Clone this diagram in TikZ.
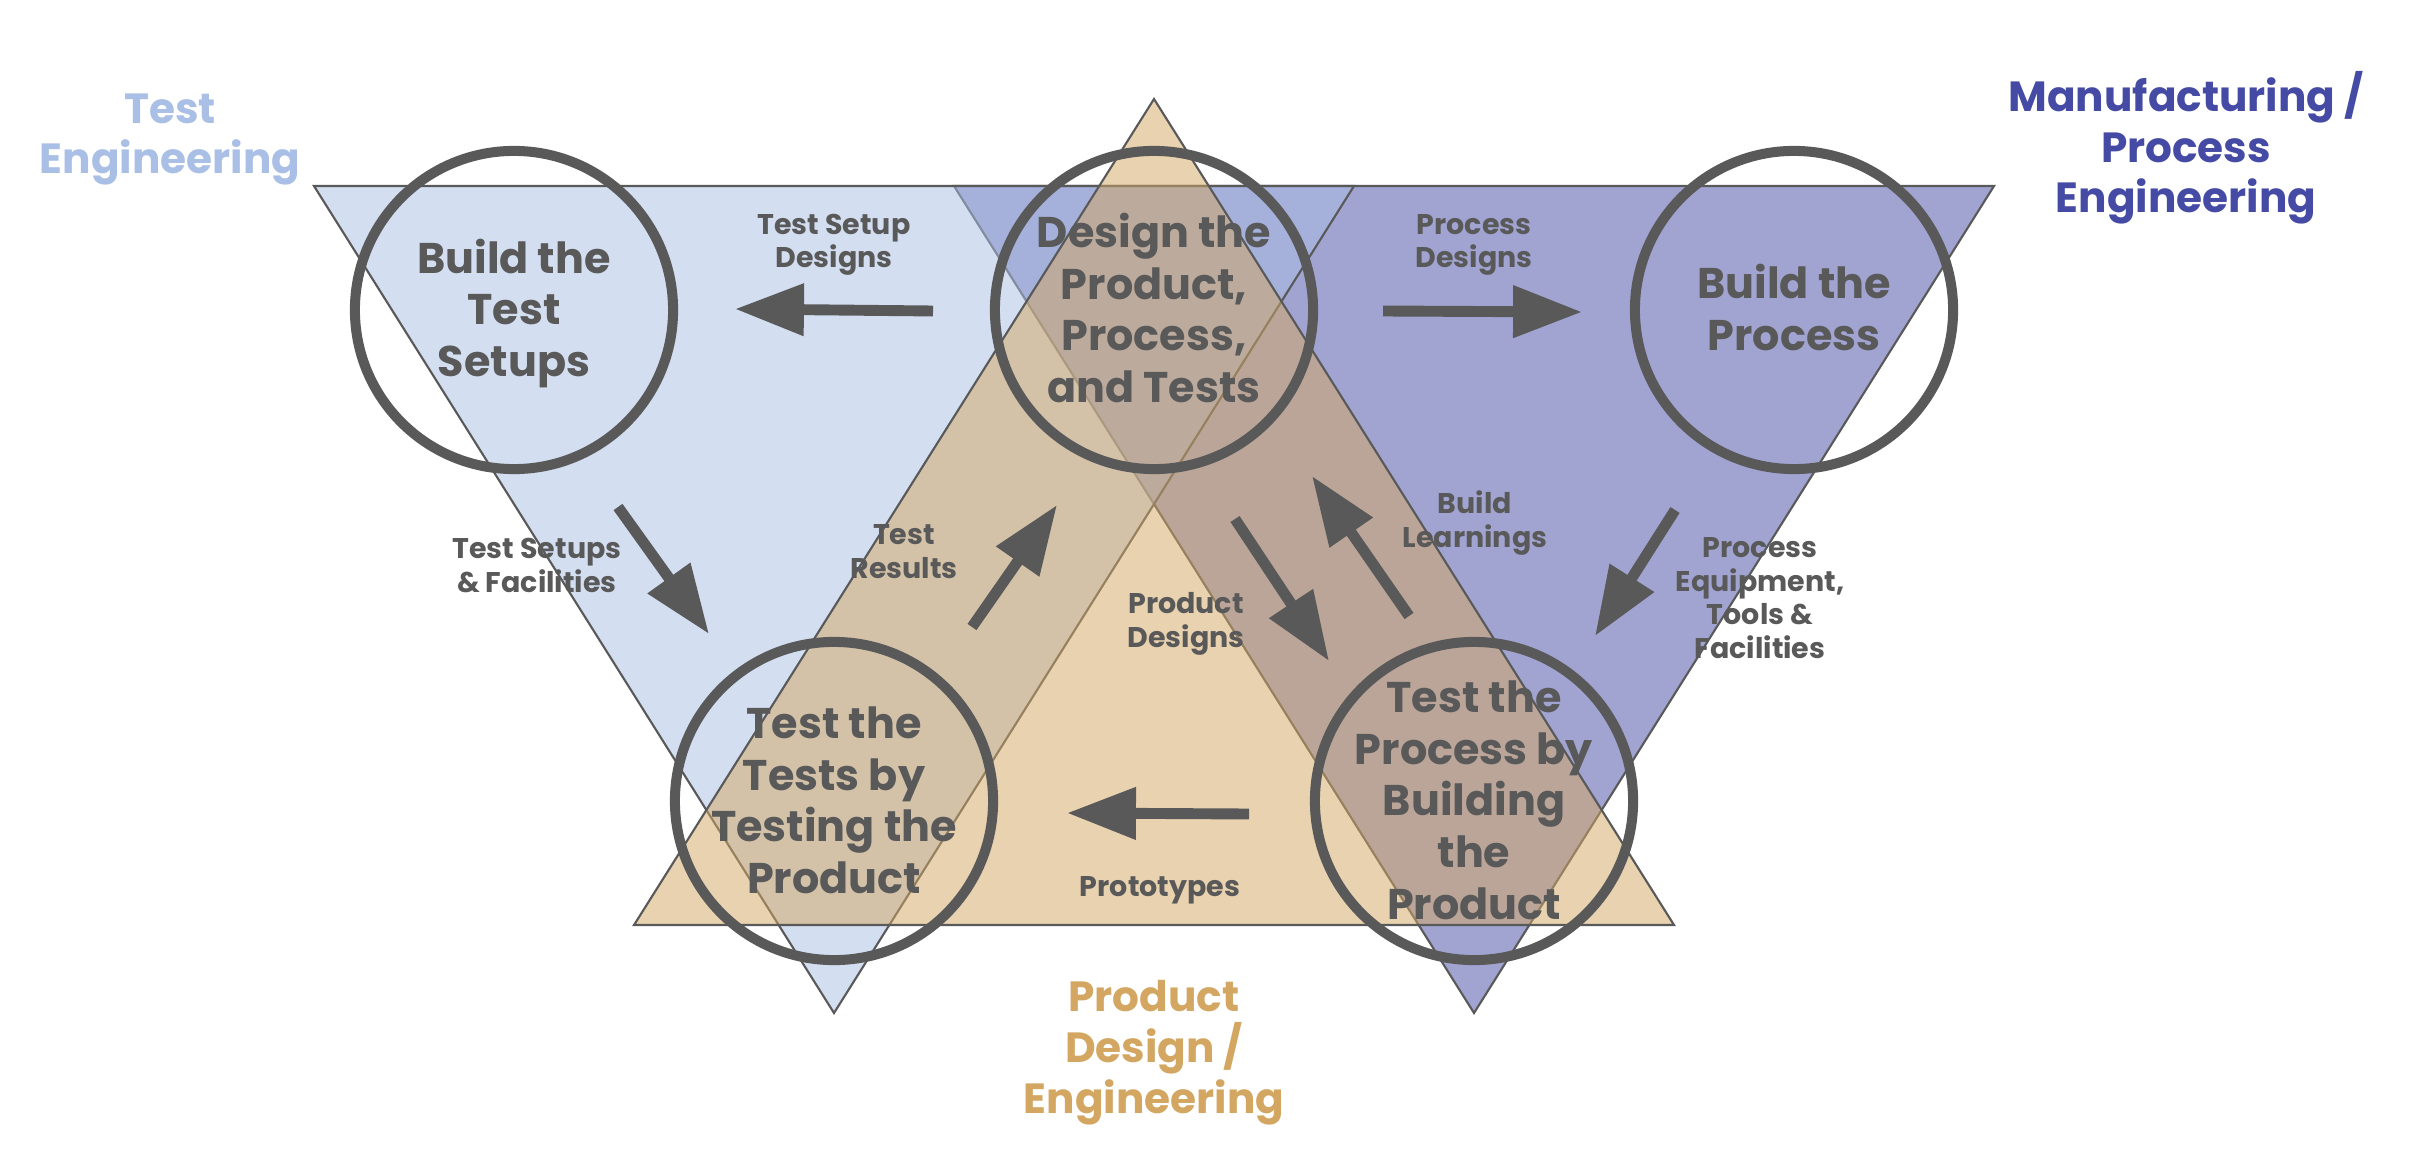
\documentclass[tikz,border=0pt]{standalone}
\usepackage{fontspec}
\setmainfont{Poppins}
\usetikzlibrary{arrows.meta}
\definecolor{ink}{HTML}{595959}
\definecolor{tblue}{HTML}{A9BFE5}
\definecolor{tpurple}{HTML}{454BA5}
\definecolor{ttan}{HTML}{D3A761}
\begin{document}
\begin{tikzpicture}[x=0.01cm,y=-0.01cm,
  tri/.style={draw=ink, line width=0.6pt, fill opacity=0.5, line join=miter},
  bigring/.style={circle, draw=ink, line width=2.85pt, minimum size=3.18cm, inner sep=0pt},
  ringtext/.style={align=center, text=ink, anchor=base, font=\fontsize{12.2}{14.65}\selectfont\bfseries},
  lbl/.style={align=center, text=ink, anchor=base, font=\fontsize{8.1}{9.5}\selectfont\bfseries},
  title/.style={align=center, anchor=base, font=\fontsize{12}{14.5}\selectfont\bfseries},
  flow/.style={draw=ink, line width=3.1pt, -{Triangle[length=19.6pt, width=14.2pt]}},
]
\useasboundingbox (0,0) rectangle (2425,1161);
\fill[white] (0,0) rectangle (2425,1161);
% triangles
\draw[tri, fill=tpurple] (954,186) -- (1994,186) -- (1474,1013) -- cycle;
\draw[tri, fill=tblue] (314,186) -- (1354,186) -- (834,1013) -- cycle;
\draw[tri, fill=ttan] (1154,99) -- (1674,925) -- (634,925) -- cycle;
% rings
\node[bigring] (c1) at (514,310) {};
\node[bigring] (c2) at (1154,310) {};
\node[bigring] (c3) at (1794,310) {};
\node[bigring] (c4) at (834,801) {};
\node[bigring] (c5) at (1474,801) {};
\node[ringtext] (t1) at (514,376.5) {Build the\\Test\\Setups};
\node[ringtext] (t2) at (1154,402.25) {Design the\\Product,\\Process,\\and Tests};
\node[ringtext] (t3) at (1794,350.5) {Build the\\Process};
\node[ringtext] (t4) at (834,893.25) {Test the\\Tests by\\Testing the\\Product};
\node[ringtext] (t5) at (1474,919) {Test the\\Process by\\Building\\the\\Product};
% arrow end points
\coordinate (a1s) at (933,311); \coordinate (a1e) at (735,309);
\coordinate (a2s) at (1383,311); \coordinate (a2e) at (1582,312);
\coordinate (a3s) at (618,507); \coordinate (a3e) at (709,634);
\coordinate (a4s) at (972,627); \coordinate (a4e) at (1057,505);
\coordinate (a5s) at (1235,519); \coordinate (a5e) at (1329,661);
\coordinate (a6s) at (1409,616); \coordinate (a6e) at (1312,476);
\coordinate (a7s) at (1675,510); \coordinate (a7e) at (1595,636);
\coordinate (a8s) at (1249,814); \coordinate (a8e) at (1067,813);
\draw[flow] (a1s) -- (a1e);
\draw[flow] (a2s) -- (a2e);
\draw[flow] (a3s) -- (a3e);
\draw[flow] (a4s) -- (a4e);
\draw[flow] (a5s) -- (a5e);
\draw[flow] (a6s) -- (a6e);
\draw[flow] (a7s) -- (a7e);
\draw[flow] (a8s) -- (a8e);
% labels
\node[lbl] (lTSD) at (834,268) {Test Setup\\Designs};
\node[lbl] (lPD) at (1474,268) {Process\\Designs};
\node[lbl] (lTSF) at (537,592) {Test Setups\\\& Facilities};
\node[lbl] (lTR) at (904,578) {Test\\Results};
\node[lbl] (lBL) at (1475,547) {Build\\Learnings};
\node[lbl] (lPDs) at (1186,647) {Product\\Designs};
\node[lbl] (lPE) at (1760,658) {Process\\Equipment,\\Tools \&\\Facilities};
\node[lbl] (lProto) at (1160,896) {Prototypes};
% titles
\node[title, text=tblue] (hTE) at (170,174) {Test\\Engineering};
\node[title, text=tpurple] (hME) at (2186,213) {Manufacturing /\\Process\\Engineering};
\node[title, text=ttan] (hPD) at (1154,1113) {Product\\Design /\\Engineering};
\end{tikzpicture}
\end{document}
